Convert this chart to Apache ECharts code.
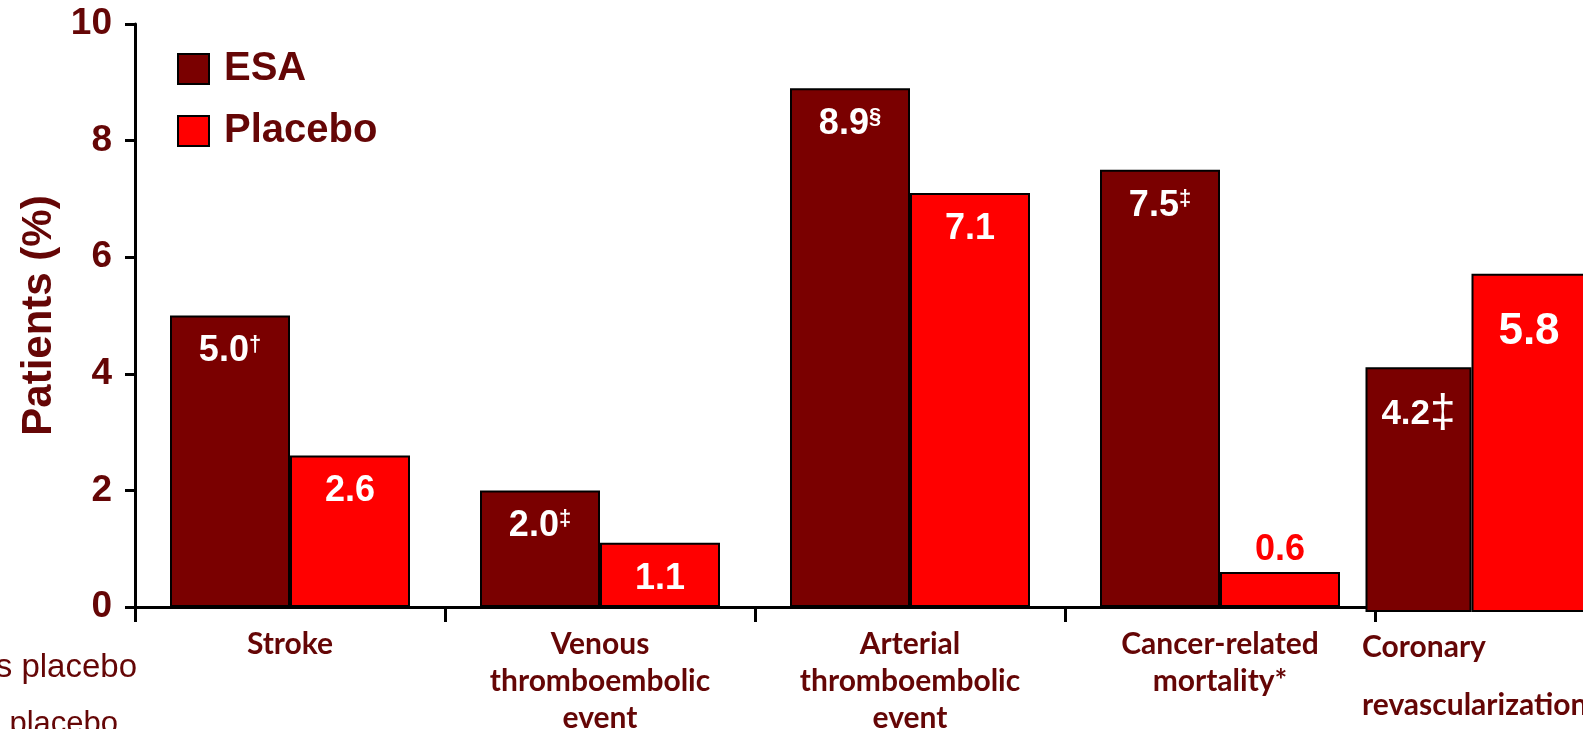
<!DOCTYPE html>
<html>
<head>
<meta charset="utf-8">
<script src="https://cdn.jsdelivr.net/npm/echarts@6/dist/echarts.min.js"></script>
<style>
  html, body { margin: 0; padding: 0; background: #ffffff; overflow: hidden; }
  #chart { width: 1583px; height: 729px; }
</style>
</head>
<body>
<div id="chart"></div>
<script>
// Event rates (% of patients) by outcome
const categories = [
  'Stroke',
  'Venous\nthromboembolic\nevent',
  'Arterial\nthromboembolic\nevent',
  'Cancer-related\nmortality*',
  'Coronary\n\nrevascularization'
];
const esaValues = [5.0, 2.0, 8.9, 7.5, 4.2];
const placeboValues = [2.6, 1.1, 7.1, 0.6, 5.8];
const esaMarks = ['\u2020', '\u2021', '\u00A7', '\u2021', '\u2021'];
const yTicks = [0, 2, 4, 6, 8, 10];
const seriesNames = ['ESA', 'Placebo'];
const sideNotes = ['versus placebo', 'vs placebo'];

const TEXT = '#650606';
const ESA_COLOR = '#7a0000';
const PLACEBO_COLOR = '#ff0000';
const ARIAL = '"Liberation Sans", Arial, sans-serif';
const CAT_FONT = 'Lato, "Open Sans", sans-serif';

const yMin = yTicks[0];
const yMax = yTicks[yTicks.length - 1];
const yStep = yTicks[1] - yTicks[0];

const mainCats = categories.slice(0, 4);
const extraCats = categories.slice(4);

const barBorder = { borderColor: '#000', borderWidth: 2 };

function esaLabel(offset) {
  return {
    show: true,
    position: 'insideTop',
    distance: 18,
    formatter: p => '{v|' + p.value.toFixed(1) + '}{s|' + esaMarks[p.dataIndex + offset] + '}',
    rich: {
      v: { fontFamily: ARIAL, fontWeight: 'bold', fontSize: 36, color: '#fff' },
      s: { fontFamily: ARIAL, fontWeight: 'bold', fontSize: 22, color: '#fff', verticalAlign: 'top' }
    }
  };
}

// small values get their label above the bar in red
const placeboMain = placeboValues.slice(0, 4).map(v => v < 1
  ? { value: v, label: { position: 'top', distance: 4, color: PLACEBO_COLOR } }
  : v);

const chart = echarts.init(document.getElementById('chart'), null, { renderer: 'canvas' });

chart.setOption({
  backgroundColor: '#ffffff',
  animation: false,
  legend: {
    data: seriesNames,
    orient: 'vertical',
    left: 172,
    top: 44,
    icon: 'rect',
    itemWidth: 31,
    itemHeight: 30,
    itemGap: 22,
    itemStyle: { borderColor: '#000', borderWidth: 2 },
    textStyle: { fontFamily: ARIAL, fontWeight: 'bold', fontSize: 40, color: TEXT, padding: [0, 0, 0, 10] }
  },
  grid: [
    { left: 135, top: 24, width: 1240, bottom: 122, containLabel: false, outerBoundsMode: 'none' },
    { left: 1366, top: 29, width: 220, bottom: 117, containLabel: false, outerBoundsMode: 'none' }
  ],
  xAxis: [
    {
      type: 'category',
      gridIndex: 0,
      data: mainCats,
      axisLine: { lineStyle: { color: '#000', width: 3 } },
      axisTick: { show: true, length: 15, lineStyle: { color: '#000', width: 3 } },
      axisLabel: {
        interval: 0, margin: 19, color: TEXT,
        fontFamily: CAT_FONT, fontWeight: 'bold', fontSize: 30, lineHeight: 37
      }
    },
    {
      type: 'category',
      gridIndex: 1,
      data: extraCats,
      axisLine: { show: false },
      axisTick: { show: false },
      axisLabel: { show: false }
    }
  ],
  yAxis: [
    {
      type: 'value',
      gridIndex: 0,
      min: yMin, max: yMax, interval: yStep,
      name: 'Patients (%)',
      nameLocation: 'middle',
      nameGap: 74,
      nameTextStyle: { fontFamily: ARIAL, fontWeight: 'bold', fontSize: 42, color: TEXT },
      axisLine: { show: true, lineStyle: { color: '#000', width: 3 } },
      axisTick: { show: true, length: 10, lineStyle: { color: '#000', width: 3 } },
      axisLabel: { margin: 23, fontFamily: ARIAL, fontWeight: 'bold', fontSize: 37, color: TEXT },
      splitLine: { show: false }
    },
    {
      type: 'value',
      gridIndex: 1,
      min: yMin, max: yMax, interval: yStep,
      show: false,
      splitLine: { show: false }
    }
  ],
  series: [
    {
      name: seriesNames[0], type: 'bar', xAxisIndex: 0, yAxisIndex: 0,
      data: esaValues.slice(0, 4), barWidth: 120, barGap: '0%',
      itemStyle: Object.assign({ color: ESA_COLOR }, barBorder),
      label: esaLabel(0)
    },
    {
      name: seriesNames[1], type: 'bar', xAxisIndex: 0, yAxisIndex: 0,
      data: placeboMain, barWidth: 120, barGap: '0%',
      itemStyle: Object.assign({ color: PLACEBO_COLOR }, barBorder),
      label: {
        show: true, position: 'insideTop', distance: 18,
        formatter: p => p.value.toFixed(1),
        fontFamily: ARIAL, fontWeight: 'bold', fontSize: 36, color: '#fff'
      }
    },
    {
      name: seriesNames[0], type: 'bar', xAxisIndex: 1, yAxisIndex: 1, z: 5,
      data: esaValues.slice(4), barWidth: 106, barGap: '0%',
      itemStyle: Object.assign({ color: ESA_COLOR }, barBorder),
      label: {
        show: true, position: 'insideTop', distance: 24,
        formatter: p => '{v|' + p.value.toFixed(1) + '}{b|' + esaMarks[4] + '}',
        rich: {
          v: { fontFamily: ARIAL, fontWeight: 'bold', fontSize: 35, color: '#fff' },
          b: { fontFamily: ARIAL, fontWeight: 'normal', fontSize: 46, color: '#fff' }
        }
      }
    },
    {
      name: seriesNames[1], type: 'bar', xAxisIndex: 1, yAxisIndex: 1, z: 5,
      data: placeboValues.slice(4), barWidth: 115, barGap: '0%',
      itemStyle: Object.assign({ color: PLACEBO_COLOR }, barBorder),
      label: {
        show: true, position: 'insideTop', distance: 36,
        formatter: p => p.value.toFixed(1),
        fontFamily: ARIAL, fontWeight: 'bold', fontSize: 44, color: '#fff'
      }
    }
  ],
  graphic: [
    {
      type: 'text', left: 1362, top: 632, z: 10,
      style: {
        text: extraCats[0], fill: TEXT,
        font: 'bold 30px ' + CAT_FONT, lineHeight: 29
      }
    },
    {
      type: 'text', x: 137, y: 668, z: 10,
      style: {
        text: sideNotes[0], fill: TEXT, align: 'right', verticalAlign: 'middle',
        font: 'normal 33px ' + ARIAL
      }
    },
    {
      type: 'text', x: 118, y: 724, z: 10,
      style: {
        text: sideNotes[1], fill: TEXT, align: 'right', verticalAlign: 'middle',
        font: 'normal 31px ' + ARIAL
      }
    }
  ]
});
</script>
</body>
</html>
